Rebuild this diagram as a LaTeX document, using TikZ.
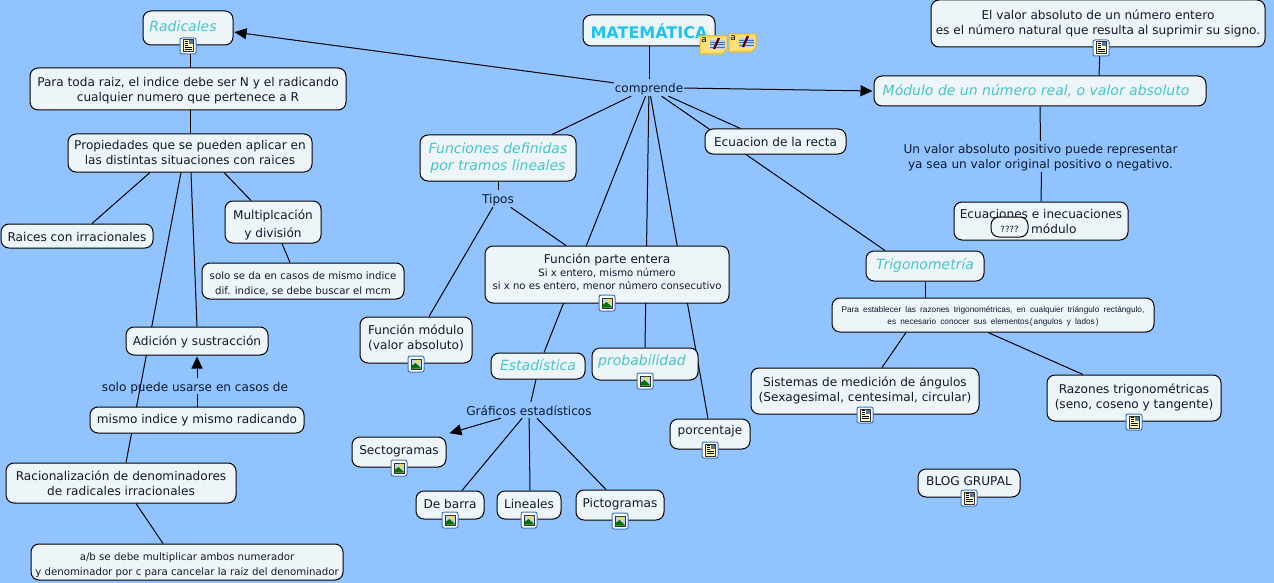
\documentclass[tikz,border=0pt]{standalone}
\usepackage{fontspec}
\setmainfont{DejaVu Sans}
\newfontfamily\smallfam{Liberation Sans}
\usetikzlibrary{arrows.meta}
\definecolor{bgblue}{HTML}{90C3FF}
\definecolor{boxfill}{HTML}{EEF5F8}
\definecolor{topiccyan}{HTML}{45C4CA}
\definecolor{titlecyan}{HTML}{1CC4F0}
\definecolor{inkdark}{HTML}{0E1A2B}
\definecolor{iconblue}{HTML}{3A72C4}
\definecolor{notefill}{HTML}{FFE070}
\definecolor{noteedge}{HTML}{E8B820}
\newcommand\parafont{\smallfam\fontsize{8.25}{12.4}\selectfont\spaceskip 4.2pt\relax}
\pgfdeclarelayer{bglayer}
\pgfdeclarelayer{edgelayer}
\pgfsetlayers{bglayer,edgelayer,main}
\tikzset{
  box/.style={draw=black,line width=1pt,fill=boxfill,rounded corners=8pt,inner sep=0pt,text=inkdark,font=\fontsize{12.1}{15}\selectfont},
  topic/.style={box,text=topiccyan,font=\fontsize{14}{17.5}\selectfont\itshape},
  tiny box/.style={box,font=\fontsize{10.2}{15}\selectfont},
  plain/.style={inner sep=0pt,text=inkdark,font=\fontsize{12.1}{15}\selectfont},
  conn/.style={draw=black,line width=1pt},
  connarrow/.style={conn,-{Triangle[length=12pt,width=11pt]},shorten >=1pt},
}
\newcommand\nd[8]{\node[#6,minimum width={(#4-#2)*1pt},minimum height={(#5-#3)*1pt}] (#1) at ({(#2+#4)/2},{(#3+#5)/2}) {\smash{\raisebox{\dimexpr#7pt-5pt\relax}{\begin{tabular}{@{}c@{}}#8\end{tabular}}}};}
\newcommand\iconframe[2]{\draw[iconblue,line width=1pt,fill=white,rounded corners=2pt] (#1-8,#2-8) rectangle (#1+8,#2+8);}
\newcommand\picicon[2]{\iconframe{#1}{#2}
  \fill[black!80] (#1-5.5,#2-5.5) rectangle (#1+5.5,#2+5.5);
  \fill[white!70!iconblue] (#1-4.5,#2-4.5) rectangle (#1+4.5,#2+4.5);
  \fill[green!45!black] (#1-4.5,#2+4.5) -- (#1-4.5,#2+2) -- (#1-0.5,#2-1) -- (#1+4.5,#2+3.5) -- (#1+4.5,#2+4.5) -- cycle;
  \fill[yellow!90!orange] (#1+1.5,#2-2.5) circle (1.8);}
\newcommand\noteicon[2]{\iconframe{#1}{#2}
  \fill[black!80] (#1-5.5,#2-6.5) rectangle (#1+5.5,#2+6.5);
  \fill[yellow!30] (#1-4.5,#2-5.5) rectangle (#1+4.5,#2+5.5);
  \fill[iconblue!70!gray] (#1+0.5,#2-5.5) rectangle (#1+4.5,#2-1.5);
  \foreach \k in {-4.5,-2.5,-0.5}{\draw[black,line width=.8pt] (#1-3.5,#2+\k) -- (#1-0.5,#2+\k);}
  \foreach \k in {1.5,3.5}{\draw[black,line width=.8pt] (#1-3.5,#2+\k) -- (#1+3.5,#2+\k);}}
\newcommand\annot[2]{%
  \fill[notefill,draw=noteedge,line width=1pt] (#1-13,#2-9) -- (#1+14,#2-9) -- (#1+14,#2+4) -- (#1+9,#2+9) -- (#1-13,#2+9) -- cycle;
  \node[inner sep=0pt,text=black,font=\fontsize{9}{9}\selectfont] at (#1-9,#2-4.5) {a};
  \fill[white!65!iconblue] (#1-3,#2-5) rectangle (#1+12,#2+4);
  \foreach \k in {-3,-0.5,2}{\draw[iconblue,line width=.7pt] (#1-3,#2+\k) -- (#1+12,#2+\k);}
  \draw[black!70!red,line width=2.2pt] (#1+1,#2+4) -- (#1+6,#2-7);}
\begin{document}
\begin{tikzpicture}[x=1pt,y=-1pt]
\useasboundingbox (0,0) rectangle (1274,583);
\begin{pgfonlayer}{bglayer}
\fill[bgblue] (0,0) rectangle (1274,583);
\end{pgfonlayer}
% left column
\nd{radicales}{143}{11}{233}{45}{topic}{1.5}{Radicales\kern10pt}
\nd{paratoda}{30}{68}{346}{110}{box}{0}{Para toda raiz, el indice debe ser N y el radicando\\cualquier numero que pertenece a R}
\nd{prop}{68}{134}{312}{172}{box}{1}{Propiedades que se pueden aplicar en\\las distintas situaciones con raices}
\nd{raices}{1}{224}{153}{248}{box}{0}{Raices con irracionales}
\nd{mult}{225}{201}{321}{243}{box}{-1}{Multiplcación\\[3pt]y división}
\nd{soloda}{202}{263}{404}{299}{tiny box}{0}{solo se da en casos de mismo indice\\dif. indice, se debe buscar el mcm}
\nd{adicion}{126}{327}{268}{355}{box}{1}{Adición y sustracción}
\nd{solopuede}{103}{378}{287}{394}{plain}{0}{solo puede usarse en casos de}
\nd{mismo}{90}{407}{304}{433}{box}{2}{mismo indice y mismo radicando}
\nd{racional}{6}{463}{236}{503}{box}{0}{Racionalización de denominadores\\de radicales irracionales}
\nd{ab}{31}{544}{343}{580}{tiny box}{0}{a/b se debe multiplicar ambos numerador\\y denominador por c para cancelar la raiz del denominador}
% centre
\nd{mate}{583}{15}{715}{46}{box,text=titlecyan,font=\fontsize{16}{19}\selectfont\bfseries}{-3}{MATEMÁTICA}
\nd{comprende}{614}{79}{684}{96}{plain}{0}{comprende}
\nd{funciones}{420}{135}{576}{181}{topic}{1}{Funciones definidas\\por tramos lineales}
\nd{tipos}{480}{190}{516}{207}{plain}{0}{Tipos}
\nd{fparte}{485}{246}{729}{303}{box,font=\fontsize{10.1}{13}\selectfont}{3}{\fontsize{12.1}{13}\selectfont Función parte entera\\Si x entero, mismo número\\si x no es entero, menor número consecutivo}
\nd{fmodulo}{360}{317}{472}{363}{box}{3}{Función módulo\\(valor absoluto)}
\nd{estad}{491}{353}{585}{379}{topic}{0}{Estadística}
\nd{prob}{592}{348}{698}{380}{topic}{3}{probabilidad\kern6pt}
\nd{porc}{670}{419}{750}{449}{box}{4.5}{porcentaje}
\nd{graficos}{466}{402}{592}{418}{plain}{0}{Gráficos estadísticos}
\nd{sect}{352}{437}{446}{467}{box}{3}{Sectogramas}
\nd{debarra}{416}{491}{484}{519}{box}{2}{De barra}
\nd{lineales}{497}{491}{561}{519}{box}{2}{Lineales}
\nd{picto}{576}{490}{664}{520}{box}{3}{Pictogramas}
% right
\nd{ecuacion}{705}{129}{846}{154}{box}{0}{Ecuacion de la recta}
\nd{elvalor}{931}{0}{1265}{47}{box}{1.5}{El valor absoluto de un número entero\\es el número natural que resulta al suprimir su signo.}
\nd{modulo}{874}{76}{1206}{106}{topic}{0}{Módulo de un número real, o valor absoluto\kern8pt}
\nd{unvalor}{904}{141}{1177}{172}{plain}{0}{Un valor absoluto positivo puede representar\\ya sea un valor original positivo o negativo.}
\nd{ecuaciones}{954}{202}{1128}{240}{box}{0}{Ecuaciones e inecuaciones\\con módulo}
\nd{preg}{991}{217}{1028}{237}{tiny box,font=\fontsize{8.5}{11}\selectfont}{0}{????}
\nd{trig}{866}{251}{984}{281}{topic}{1}{Trigonometría}
\nd{paraest}{832}{298}{1154}{332}{box,font=\parafont}{2}{Para establecer las razones trigonométricas, en cualquier triángulo rectángulo,\\es necesario conocer sus elementos\kern1pt(\kern1pt angulos y lados\kern1pt)}
\nd{sistemas}{751}{368}{979}{414}{box}{2}{Sistemas de medición de ángulos\\(Sexagesimal, centesimal, circular)}
\nd{razones}{1047}{375}{1221}{421}{box}{2}{Razones trigonométricas\\(seno, coseno y tangente)}
\nd{blog}{918}{469}{1020}{497}{box}{3}{BLOG GRUPAL}
% connectors
\begin{pgfonlayer}{edgelayer}
\draw[conn] (mate.south) -- (mate.south |- comprende.north);
\draw[connarrow] (comprende) -- ([yshift=-4pt]radicales.east);
\draw[connarrow] (comprende) -- (modulo.west);
\draw[conn] (comprende) -- ([xshift=54pt]funciones.north);
\draw[conn] (comprende) -- ([xshift=6pt]estad.north);
\draw[conn] (comprende) -- (prob.north);
\draw[conn] (comprende) -- ([xshift=-2pt]porc.north);
\draw[conn] (comprende) -- ([xshift=-35pt]ecuacion.north);
\draw[conn] (comprende) -- ([xshift=-40pt]trig.north);
\draw[conn] ([xshift=2pt]radicales.south) -- ([xshift=2pt]paratoda.north);
\draw[conn] (prop.north |- paratoda.south) -- (prop.north);
\draw[conn] ([xshift=-40pt]prop.south) -- ([xshift=15pt]raices.north);
\draw[conn] ([xshift=34pt]prop.south) -- ([xshift=-22pt]mult.north);
\draw[conn] ([xshift=1pt]prop.south) -- (adicion.north);
\draw[conn] ([xshift=-9pt]prop.south) -- ([xshift=5pt]racional.north);
\draw[conn] ([xshift=9pt]mult.south) -- ([xshift=-13pt]soloda.north);
\draw[conn] ([xshift=15pt]racional.south) -- ([xshift=-24pt]ab.north);
\draw[conn] (mismo.north) -- (mismo.north |- solopuede.south);
\draw[connarrow] (adicion.south |- solopuede.north) -- (adicion.south);
\draw[conn] (funciones.south) -- (tipos);
\draw[conn] (tipos) -- ([xshift=13pt]fmodulo.north);
\draw[conn] (tipos) -- ([xshift=-41pt]fparte.north);
\draw[conn] ([xshift=-2pt]estad.south) -- (graficos);
\draw[connarrow] (graficos) -- ([xshift=2pt,yshift=3pt]sect.north east);
\draw[conn] (graficos) -- ([xshift=12pt]debarra.north);
\draw[conn] (graficos) -- ([xshift=1pt]lineales.north);
\draw[conn] (graficos) -- ([xshift=-14pt]picto.north);
\draw[conn] ([xshift=2pt]elvalor.south) -- ([xshift=59pt]modulo.north);
\draw[conn] (modulo.south) -- (unvalor.north);
\draw[conn] ([xshift=1pt]unvalor.south) -- ([xshift=0pt]ecuaciones.north);
\draw[conn] (trig.south) -- (trig.south |- paraest.north);
\draw[conn] ([xshift=-87pt]paraest.south) -- ([xshift=17pt]sistemas.north);
\draw[conn] ([xshift=-5pt]paraest.south) -- ([xshift=-51pt]razones.north);
\end{pgfonlayer}
% icons
\noteicon{188}{46}
\noteicon{1101}{48}
\noteicon{865}{415}
\noteicon{1134}{422}
\noteicon{710}{450}
\noteicon{969}{498}
\picicon{607}{303}
\picicon{416}{364}
\picicon{645}{381}
\picicon{399}{468}
\picicon{450}{520}
\picicon{529}{520}
\picicon{620}{521}
\annot{713}{45}
\annot{742}{43}
\end{tikzpicture}
\end{document}
